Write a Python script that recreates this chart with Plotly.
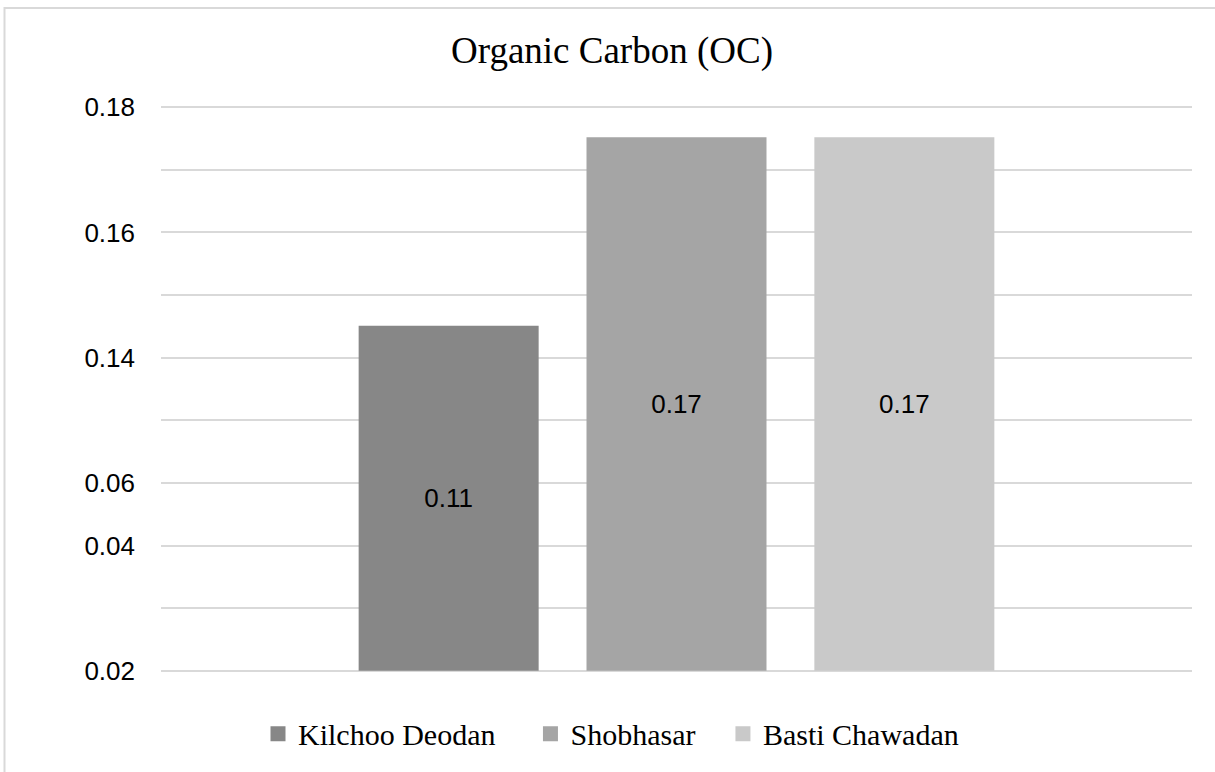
import plotly.graph_objects as go

# Data
sites = ["Kilchoo Deodan", "Shobhasar", "Basti Chawadan"]
oc_labels = ["0.11", "0.17", "0.17"]          # data labels shown on bars
bar_heights = [5.51, 8.52, 8.52]               # bar heights in the chart's grid units
colors = ["#878787", "#a5a5a5", "#c9c9c9"]
legend_pad = [4, 3, 0]                         # spacing after each legend entry

tick_positions = [0, 1, 2, 3, 4, 5, 6, 7, 8, 9]
tick_labels = ["0.02", "", "0.04", "0.06", "", "0.14", "", "0.16", "", "0.18"]

fig = go.Figure()
for name, h, lab, c in zip(sites, bar_heights, oc_labels, colors):
    fig.add_trace(go.Bar(
        x=["OC"], y=[h], name=name, legendgroup=name, showlegend=False,
        marker=dict(color=c, line=dict(width=0)),
        text=[lab], textposition="inside", insidetextanchor="middle",
        textfont=dict(family="Arial, Liberation Sans, sans-serif", size=26, color="#000000"),
        hoverinfo="skip",
    ))
# legend entries with larger square swatches
for name, c, pad in zip(sites, colors, legend_pad):
    fig.add_trace(go.Scatter(
        x=[None], y=[None], mode="markers", name=name + "\u00a0" * pad, legendgroup=name,
        marker=dict(symbol="square", size=15, color=c, line=dict(width=0)),
        hoverinfo="skip",
    ))

W, H = 1215, 772
L, R, T, B = 161, 23, 106, 97
pw, ph = W - L - R, H - T - B

def px_x(p):
    return (p - L) / pw

def px_y(p):
    return (H - B - p) / ph

fig.update_layout(
    width=W, height=H,
    margin=dict(l=L, r=R, t=T, b=B, pad=0),
    paper_bgcolor="white", plot_bgcolor="white",
    barmode="group", bargap=0.337, bargroupgap=0.21,
    title=dict(text="Organic Carbon (OC)", x=612 / W, xanchor="center",
               y=1 - 50.5 / H, yanchor="middle",
               font=dict(family="Times New Roman, Liberation Serif, serif", size=37, color="#000000")),
    showlegend=True,
    legend=dict(orientation="h", x=px_x(611), xanchor="center", y=px_y(737), yanchor="middle",
                font=dict(family="Times New Roman, Liberation Serif, serif", size=30, color="#000000"),
                itemwidth=30, itemsizing="trace", traceorder="normal", bgcolor="rgba(0,0,0,0)"),
    xaxis=dict(showticklabels=False, showgrid=False, zeroline=False, showline=False, ticks=""),
    yaxis=dict(range=[-0.02, 9.02], tickmode="array", tickvals=tick_positions, ticktext=tick_labels,
               showgrid=True, gridcolor="#d9d9d9", gridwidth=2, zeroline=False, showline=False,
               ticks="", ticklabelstandoff=25,
               tickfont=dict(family="Arial, Liberation Sans, sans-serif", size=26, color="#000000")),
    shapes=[dict(type="rect", xref="paper", yref="paper",
                 x0=px_x(4.5), x1=px_x(1225), y0=px_y(785), y1=px_y(7.5),
                 line=dict(color="#d9d9d9", width=2), fillcolor="rgba(0,0,0,0)", layer="below")],
)

fig.write_html("out.html", config={"displayModeBar": False},
               post_script="document.body.style.margin='0';")
